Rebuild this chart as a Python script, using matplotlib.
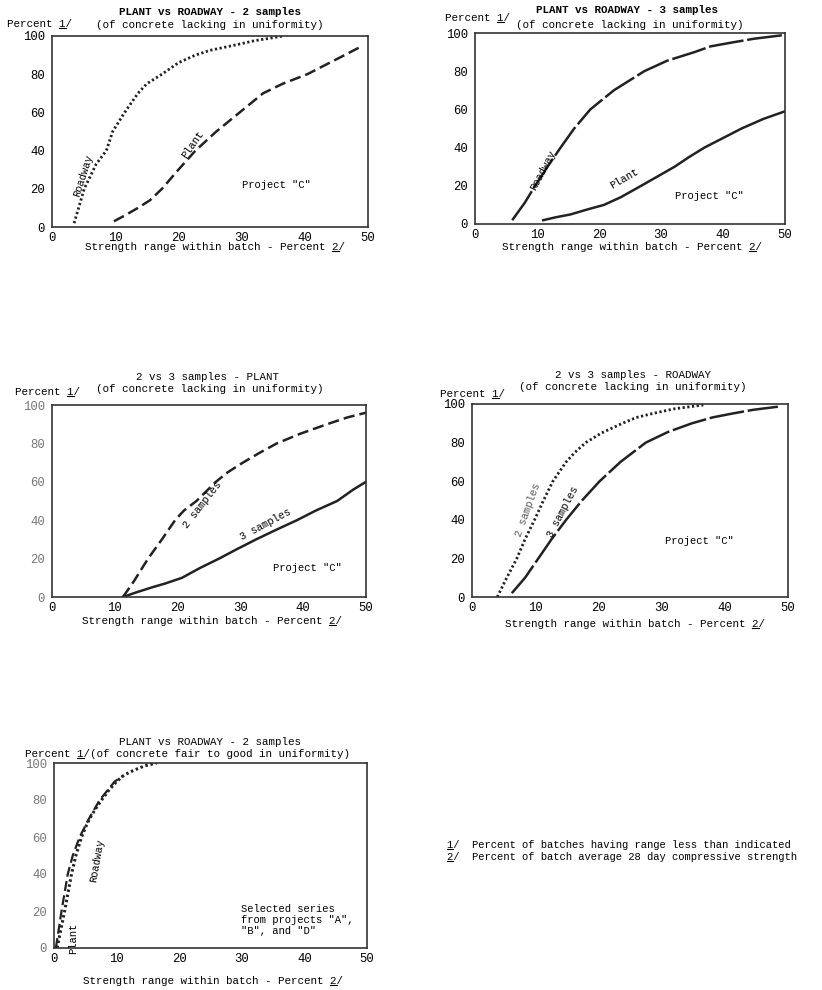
import matplotlib.pyplot as plt
from matplotlib.lines import Line2D

plt.rcParams['font.family'] = ['Liberation Mono', 'DejaVu Sans Mono']

# === Panel 1: plant vs roadway, 2 samples ===
p1_road_x = [3.5, 5.1, 7.0, 8.6, 9.6, 11.5, 13.6, 15.0, 17.4, 20.0, 22.7, 25.0, 28.6, 32.0, 36.6]
p1_road_y = [2, 20, 33, 40, 50, 60, 70, 75, 80, 86, 90, 92.5, 95, 97.5, 100]
p1_plant_x = [9.8, 11.5, 13.6, 15.5, 17.4, 20.0, 22.7, 26.0, 29.7, 33.4, 36.5, 40.4, 46.3, 49.2]
p1_plant_y = [3, 6, 10, 14, 20, 30, 40, 50, 60, 70, 75, 80, 90, 95]

# === Panel 2: plant vs roadway, 3 samples ===
p2_road_x = [6.0, 8.0, 9.7, 11.7, 13.8, 16.0, 18.6, 22.4, 27.3, 31.0, 35.4, 38.0, 41.4, 45.0, 50.0]
p2_road_y = [2, 11, 20, 30, 40, 50, 60, 70, 80, 85.5, 90, 93, 95, 97, 99]
p2_plant_x = [11.0, 13.0, 15.4, 18.0, 20.8, 23.5, 26.8, 29.5, 32.2, 34.5, 37.0, 40.0, 43.0, 46.5, 50.0]
p2_plant_y = [2, 3.5, 5, 7.5, 10, 14, 20, 25, 30, 35, 40, 45, 50, 55, 59]

# === Panel 3: 2 vs 3 samples, plant ===
p3_two_x = [11.3, 13.0, 15.3, 17.5, 19.6, 21.0, 23.0, 26.1, 28.0, 30.4, 33.0, 35.8, 39.5, 43.8, 47.0, 50.0]
p3_two_y = [0, 8, 20, 30, 40, 45, 50, 60, 65, 70, 75, 80, 85, 90, 93.5, 96]
p3_three_x = [11.3, 13.5, 15.9, 18.0, 20.7, 23.5, 26.6, 29.5, 32.5, 35.7, 39.0, 42.0, 45.4, 48.0, 50.0]
p3_three_y = [0, 2.5, 5, 7, 10, 15, 20, 25, 30, 35, 40, 45, 50, 56, 60]

# === Panel 4: 2 vs 3 samples, roadway ===
p4_two_x = [4.0, 5.5, 7.1, 8.4, 9.9, 11.3, 12.8, 14.9, 16.3, 18.0, 20.5, 23.8, 26.0, 28.5, 32.0, 36.6]
p4_two_y = [0, 10, 20, 30, 40, 50, 60, 70, 75, 80, 85, 90, 93, 95, 97.5, 99.5]
p4_three_x = [6.3, 8.4, 10.5, 12.6, 14.9, 17.4, 20.2, 23.5, 27.5, 31.0, 34.8, 38.0, 41.1, 44.5, 48.4]
p4_three_y = [2, 10, 20, 30, 40, 50, 60, 70, 80, 85.5, 90, 93, 95, 97, 98.6]

# === Panel 5: plant vs roadway, fair to good uniformity ===
p5_road_x = [0.5, 1.7, 2.8, 3.5, 4.4, 5.0, 5.7, 6.6, 7.6, 8.7, 10.0, 11.2, 12.7, 14.5, 16.4]
p5_road_y = [0, 20, 40, 50, 60, 65, 70, 75, 80, 85, 90, 93.5, 96, 98.5, 100]
p5_plant_x = [0.3, 1.2, 2.2, 3.0, 4.1, 5.6, 7.3, 8.5, 9.7, 11.0]
p5_plant_y = [0, 20, 40, 50, 60, 70, 80, 85, 90, 93]

xticks = [0, 10, 20, 30, 40, 50]
yticks = [0, 20, 40, 60, 80, 100]

W, H = 822, 990
fig = plt.figure(figsize=(W / 100, H / 100), dpi=100)
renderer = fig.canvas.get_renderer()

DOT = (0, (0.8, 0.9))
DASH = (0, (4.5, 2))
LONGDASH = (0, (14, 1.5))
FS = 7.8
TFS = 8.8   # tick labels
LFS = 7.6   # in-plot labels


def make_axes(left, top, right, bottom, tick_color='black'):
    ax = fig.add_axes([left / W, 1 - bottom / H, (right - left) / W, (bottom - top) / H])
    ax.set_xlim(0, 50)
    ax.set_ylim(0, 100)
    ax.set_xticks(xticks)
    ax.set_yticks(yticks)
    ax.tick_params(axis='y', length=0, labelsize=TFS, pad=5)
    ax.tick_params(axis='x', length=0, labelsize=TFS, pad=3.5)
    for lab in ax.get_yticklabels():
        lab.set_color(tick_color)
    for s in ax.spines.values():
        s.set_color('#333333')
        s.set_linewidth(1.2)
    return ax


def ftext(x, y, s, ul=None, **kw):
    # figure text placed in pixel coords (from top); ul = index of char to underline
    kw.setdefault('fontsize', FS)
    t = fig.text(x / W, 1 - y / H, s, **kw)
    if ul is not None:
        bb = t.get_window_extent(renderer)
        cw = bb.width / len(s)
        x0 = bb.x0 + cw * ul
        yl = bb.y0 + 1
        fig.add_artist(Line2D([x0 / W, (x0 + cw) / W], [yl / H, yl / H],
                              color='black', lw=0.8, transform=fig.transFigure))
    return t


PCT = 'Percent 1/'
XLAB = 'Strength range within batch - Percent 2/'
XUL = XLAB.index('2/')

# Panel 1
ax1 = make_axes(52, 36, 368, 227)
ax1.plot(p1_road_x, p1_road_y, color='#222222', lw=2, linestyle=DOT)
ax1.plot(p1_plant_x, p1_plant_y, color='#222222', lw=1.8, linestyle=DASH)
ax1.text(5.0, 27, 'Roadway', rotation=72, fontsize=LFS, ha='center', va='center')
ax1.text(22.3, 43, 'Plant', rotation=55, fontsize=LFS, ha='center', va='center')
ax1.text(35.5, 22, 'Project "C"', fontsize=LFS, ha='center', va='center')
ftext(210, 12, 'PLANT vs ROADWAY - 2 samples', ha='center', va='center', weight='bold')
ftext(210, 25, '(of concrete lacking in uniformity)', ha='center', va='center')
ftext(7, 24, PCT, ul=8, ha='left', va='center')
ftext(215, 247, XLAB, ul=XUL, ha='center', va='center')

# Panel 2
ax2 = make_axes(475, 33, 785, 224)
ax2.plot(p2_road_x, p2_road_y, color='#222222', lw=1.8, linestyle=LONGDASH)
ax2.plot(p2_plant_x, p2_plant_y, color='#222222', lw=1.8)
ax2.text(11.0, 28, 'Roadway', rotation=62, fontsize=LFS, ha='center', va='center')
ax2.text(24.0, 24, 'Plant', rotation=30, fontsize=LFS, ha='center', va='center')
ax2.text(37.8, 14.5, 'Project "C"', fontsize=LFS, ha='center', va='center')
ftext(627, 10, 'PLANT vs ROADWAY - 3 samples', ha='center', va='center', weight='bold')
ftext(630, 25, '(of concrete lacking in uniformity)', ha='center', va='center')
ftext(445, 18, PCT, ul=8, ha='left', va='center')
ftext(632, 247, XLAB, ul=XUL, ha='center', va='center')

# Panel 3
ax3 = make_axes(52, 405, 366, 597, tick_color='#777777')
ax3.plot(p3_two_x, p3_two_y, color='#222222', lw=1.8, linestyle=DASH)
ax3.plot(p3_three_x, p3_three_y, color='#222222', lw=1.8)
ax3.text(24.0, 48, '2 samples', rotation=52, fontsize=LFS, ha='center', va='center')
ax3.text(34.0, 38, '3 samples', rotation=28, fontsize=LFS, ha='center', va='center')
ax3.text(40.6, 15, 'Project "C"', fontsize=LFS, ha='center', va='center')
ftext(207, 377, '2 vs 3 samples - PLANT', ha='center', va='center')
ftext(210, 389, '(of concrete lacking in uniformity)', ha='center', va='center')
ftext(15, 392, PCT, ul=8, ha='left', va='center')
ftext(212, 621, XLAB, ul=XUL, ha='center', va='center')

# Panel 4
ax4 = make_axes(472, 404, 788, 597)
ax4.plot(p4_two_x, p4_two_y, color='#222222', lw=2, linestyle=DOT)
ax4.plot(p4_three_x, p4_three_y, color='#222222', lw=1.8, linestyle=LONGDASH)
ax4.text(8.9, 45, '2 samples', rotation=70, fontsize=LFS, ha='center', va='center', color='#555555')
ax4.text(14.4, 44, '3 samples', rotation=62, fontsize=LFS, ha='center', va='center')
ax4.text(36.0, 29, 'Project "C"', fontsize=LFS, ha='center', va='center')
ftext(633, 375, '2 vs 3 samples - ROADWAY', ha='center', va='center')
ftext(633, 387, '(of concrete lacking in uniformity)', ha='center', va='center')
ftext(440, 394, PCT, ul=8, ha='left', va='center')
ftext(635, 624, XLAB, ul=XUL, ha='center', va='center')

# Panel 5
ax5 = make_axes(54, 763, 367, 948, tick_color='#777777')
ax5.plot(p5_road_x, p5_road_y, color='#222222', lw=2.2, linestyle=DOT)
ax5.plot(p5_plant_x, p5_plant_y, color='#222222', lw=1.6, linestyle=DASH)
ax5.text(6.8, 47, 'Roadway', rotation=80, fontsize=LFS, ha='center', va='center')
ax5.text(3.0, 5, 'Plant', rotation=90, fontsize=LFS, ha='center', va='center')
ax5.text(29.8, 24, 'Selected series\nfrom projects "A",\n"B", and "D"', fontsize=LFS,
         ha='left', va='top', linespacing=1.15)
ftext(210, 742, 'PLANT vs ROADWAY - 2 samples', ha='center', va='center')
ftext(25, 754, PCT + '(of concrete fair to good in uniformity)', ul=8, ha='left', va='center')
ftext(213, 981, XLAB, ul=XUL, ha='center', va='center')

# Footnotes
ftext(447, 845, '1/  Percent of batches having range less than indicated', ul=0,
      ha='left', va='center', fontsize=7.6)
ftext(447, 857, '2/  Percent of batch average 28 day compressive strength', ul=0,
      ha='left', va='center', fontsize=7.6)

plt.savefig('out.png', dpi=100)
